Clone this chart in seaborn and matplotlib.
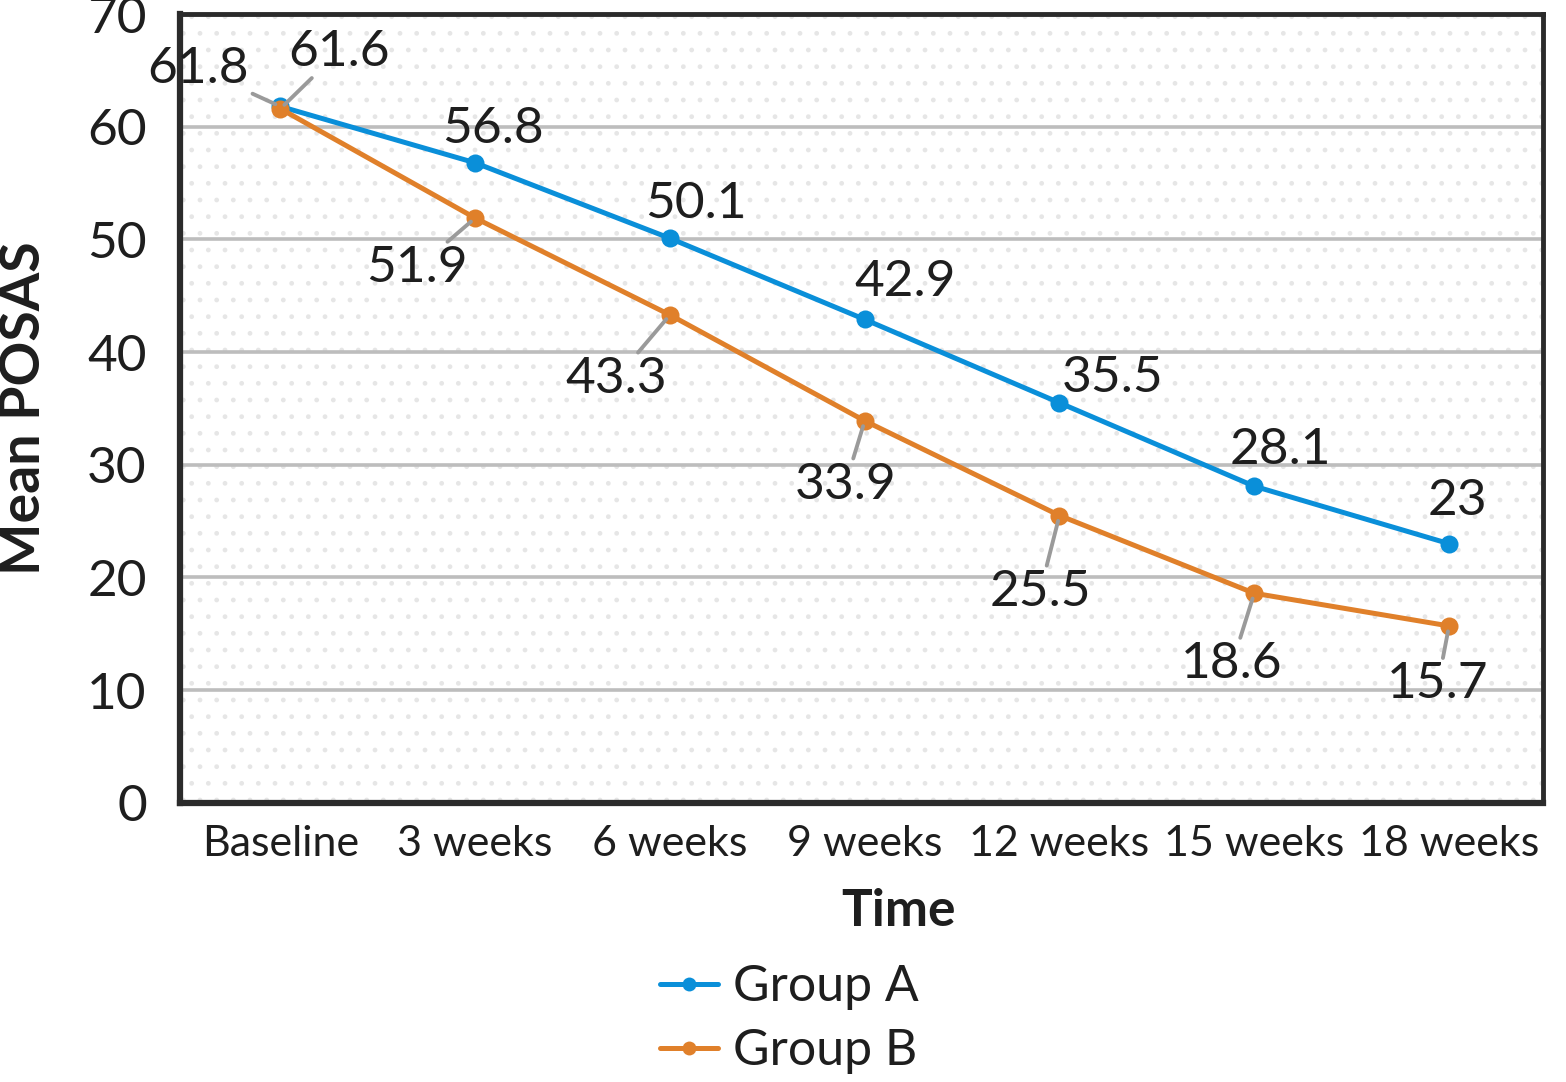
import pandas as pd
import matplotlib.pyplot as plt
import seaborn as sns

# Veriler
zaman = ['Baseline', '3 weeks', '6 weeks', '9 weeks', '12 weeks', '15 weeks', '18 weeks']
grup_a = [61.8, 56.8, 50.1, 42.9, 35.5, 28.1, 23]
grup_b = [61.6, 51.9, 43.3, 33.9, 25.5, 18.6, 15.7]
etiket_a = ['61.8', '56.8', '50.1', '42.9', '35.5', '28.1', '23']
etiket_b = ['61.6', '51.9', '43.3', '33.9', '25.5', '18.6', '15.7']
y_ticks = [0, 10, 20, 30, 40, 50, 60, 70]

df = pd.DataFrame({
    'Time': zaman * 2,
    'Mean POSAS': grup_a + grup_b,
    'Group': ['Group A'] * len(zaman) + ['Group B'] * len(zaman),
})

sns.set_style('white')
plt.rcParams['font.family'] = ['Lato', 'DejaVu Sans']
plt.rcParams['hatch.linewidth'] = 1.0

mavi = '#0a8fd9'
turuncu = '#e0802a'
koyu = '#2b2b2b'
yazi = '#1e1e1e'

fig = plt.figure(figsize=(15.66, 10.82), dpi=100)
ax = fig.add_axes([0.115, 0.258, 0.87, 0.729])

# noktali arka plan
ax.set_facecolor('white')
ax.patch.set_hatch('.')
ax.patch.set_edgecolor('#e6e6e6')
ax.patch.set_linewidth(0)

for y in y_ticks[1:-1]:
    ax.axhline(y, color='#bdbdbd', lw=2.6, zorder=1)

sns.lineplot(data=df, x='Time', y='Mean POSAS', hue='Group', palette=[mavi, turuncu],
             marker='o', markersize=13, markeredgewidth=0, linewidth=3.6, ax=ax,
             zorder=3, sort=False)

ax.set_xlim(-0.515, 6.48)
ax.set_ylim(0, 70)
ax.set_yticks(y_ticks)
ax.set_yticklabels([str(v) for v in y_ticks], fontsize=37, color=yazi)
ax.set_xticks(range(len(zaman)))
ax.set_xticklabels(zaman, fontsize=31, color=yazi)
ax.tick_params(axis='y', direction='out', length=18, width=3.5, color=koyu, pad=6)
ax.tick_params(axis='x', length=0, pad=16)

for s in ax.spines.values():
    s.set_color(koyu)
    s.set_linewidth(3.5)
ax.spines['left'].set_linewidth(4.5)
ax.spines['bottom'].set_linewidth(4.5)

ax.set_ylabel('Mean POSAS', fontsize=40, fontweight='bold', color=yazi)
ax.yaxis.set_label_coords(-0.096, 0.5)
ax.set_xlabel('Time', fontsize=37, fontweight='bold', color=yazi)
ax.xaxis.set_label_coords(0.527, -0.108)

# Etiketler (offset points)
ofs_a = [(-59, 27), (13, 24), (19, 25), (29, 27), (38, 18), (19, 26), (6, 31)]
ofs_b = [(42, 41), (-42, -36), (-39, -46), (-14, -46), (-14, -55), (-16, -51), (-8, -42)]
ok_a = [True, False, False, False, False, False, False]

ok = dict(arrowstyle='-', color='#9a9a9a', lw=2.8, shrinkA=0, shrinkB=4)
for i, (v, t) in enumerate(zip(grup_a, etiket_a)):
    ax.annotate(t, (i, v), xytext=ofs_a[i], textcoords='offset points', ha='center', va='center',
                fontsize=37, color=yazi, zorder=5,
                arrowprops=ok if ok_a[i] else None)
for i, (v, t) in enumerate(zip(grup_b, etiket_b)):
    ax.annotate(t, (i, v), xytext=ofs_b[i], textcoords='offset points', ha='center', va='center',
                fontsize=37, color=yazi, zorder=5, arrowprops=ok)

leg = ax.legend(loc='center left', bbox_to_anchor=(0.4215, 0.058), bbox_transform=fig.transFigure,
                frameon=False, borderpad=0, borderaxespad=0, handlelength=1.16,
                handletextpad=0.3, labelspacing=0.36, prop={'size': 36})
for h in leg.legend_handles:
    h.set_linewidth(3.6)
    h.set_markersize(10)
for t in leg.get_texts():
    t.set_color(yazi)

fig.savefig('out.png', dpi=100)
